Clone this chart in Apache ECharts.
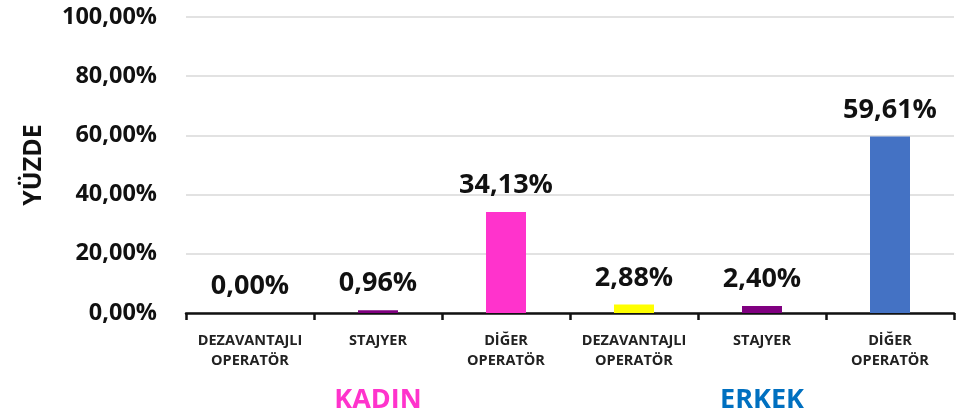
<!DOCTYPE html>
<html>
<head>
<meta charset="utf-8">
<script src="https://cdn.jsdelivr.net/npm/echarts@6/dist/echarts.min.js"></script>
<style>
html, body { margin: 0; padding: 0; background: #fff; }
#myChart { width: 966px; height: 420px; }
</style>
</head>
<body>
<div id="myChart"></div>
<script>
// kategoriler
var categories = ['DEZAVANTAJLI\nOPERATÖR', 'STAJYER', 'DİĞER\nOPERATÖR', 'DEZAVANTAJLI\nOPERATÖR', 'STAJYER', 'DİĞER\nOPERATÖR'];
// yüzde değerleri
var values = [0.00, 0.96, 34.13, 2.88, 2.40, 59.61];
var barColors = ['#7F007F', '#7F007F', '#FF33CC', '#FFFF00', '#800080', '#4472C4'];
// grup etiketleri
var groups = ['KADIN', 'ERKEK'];
var groupColors = ['#FF33CC', '#0070C0'];

var font = '"Open Sans", sans-serif';

function fmt(v) {
    return v.toFixed(2).replace('.', ',') + '%';
}

var myChart = echarts.init(document.getElementById('myChart'));
myChart.setOption({
    animation: false,
    grid: { left: 186, right: 12, top: 17, bottom: 107 },
    xAxis: [
        {
            type: 'category',
            data: categories,
            axisLine: { lineStyle: { color: '#111', width: 2.5 } },
            axisTick: { show: true, length: 7, lineStyle: { color: '#111', width: 2.5 } },
            axisLabel: {
                color: '#222',
                fontFamily: font,
                fontWeight: 'bold',
                fontSize: 14.5,
                lineHeight: 20,
                margin: 18,
                interval: 0
            }
        },
        {
            type: 'category',
            position: 'bottom',
            data: groups,
            gridIndex: 0,
            axisLine: { show: false },
            axisTick: { show: false },
            axisLabel: {
                fontFamily: font,
                fontWeight: 'bold',
                fontSize: 27,
                margin: 74,
                formatter: function (v) {
                    return '{g' + groups.indexOf(v) + '|' + v + '}';
                },
                rich: {
                    g0: { color: groupColors[0], fontFamily: font, fontWeight: 'bold', fontSize: 27 },
                    g1: { color: groupColors[1], fontFamily: font, fontWeight: 'bold', fontSize: 27 }
                }
            }
        }
    ],
    yAxis: {
        type: 'value',
        min: 0,
        max: 100,
        interval: 20,
        name: 'YÜZDE',
        nameLocation: 'middle',
        nameRotate: 90,
        nameGap: 140,
        nameTextStyle: { color: '#111', fontFamily: font, fontWeight: 'bold', fontSize: 25 },
        axisLine: { show: false },
        axisTick: { show: false },
        splitLine: { lineStyle: { color: '#d9d9d9', width: 1.5 } },
        axisLabel: {
            color: '#111',
            fontFamily: font,
            fontWeight: 'bold',
            fontSize: 23.5,
            margin: 29,
            formatter: fmt
        }
    },
    series: [
        {
            type: 'bar',
            xAxisIndex: 0,
            barWidth: 40,
            data: values.map(function (v, i) {
                return { value: v, itemStyle: { color: barColors[i] } };
            }),
            label: {
                show: true,
                position: 'top',
                distance: 13,
                color: '#111',
                fontFamily: font,
                fontWeight: 'bold',
                fontSize: 27,
                formatter: function (p) { return fmt(p.value); }
            }
        }
    ]
});
</script>
</body>
</html>
